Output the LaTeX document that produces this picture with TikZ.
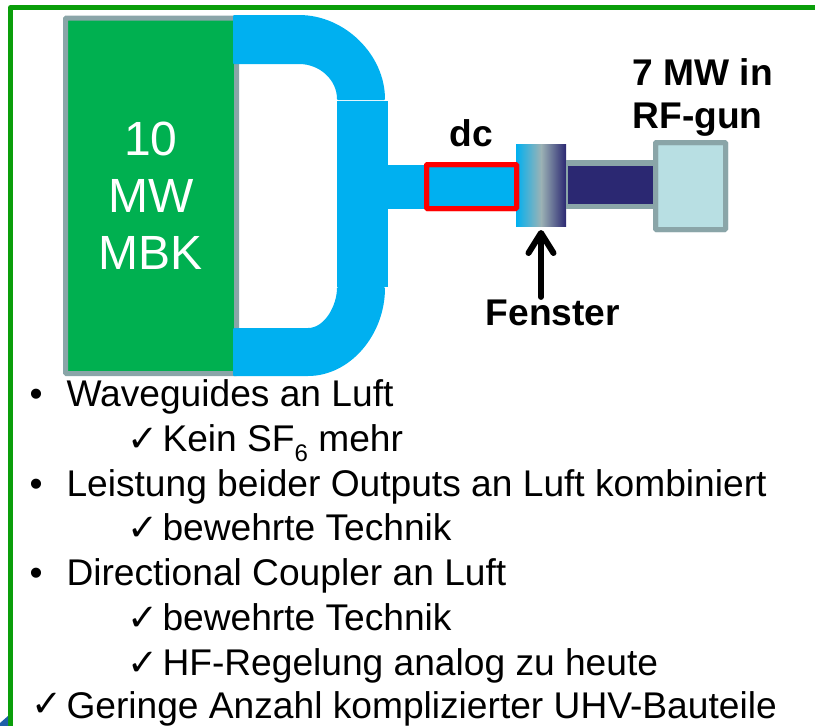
\documentclass[tikz,border=0pt]{standalone}
\usepackage{fontspec}
\setmainfont{Liberation Sans}
\newfontfamily\symfont{DejaVu Sans}
\usetikzlibrary{arrows.meta}
\definecolor{mbkgreen}{HTML}{00B050}
\definecolor{guideblue}{HTML}{00B0F0}
\definecolor{rimgray}{HTML}{8AA5A8}
\definecolor{tubenavy}{HTML}{2B2872}
\definecolor{gunpale}{HTML}{B8DFE3}
\definecolor{framegreen}{HTML}{0A9E0A}
\definecolor{cornerblue}{HTML}{1F5FA8}
\tikzset{
  rimbox/.style={draw=rimgray, line width=5pt, rounded corners=1pt, outer sep=0pt, inner sep=0pt},
  guidebox/.style={fill=guideblue, outer sep=0pt, inner sep=0pt},
  bodytext/.style={anchor=base west, inner sep=0pt, font=\fontsize{37.15}{44}\selectfont},
  boldtext/.style={inner sep=0pt, font=\fontsize{37.15}{43}\selectfont\bfseries},
}
\newcommand{\chk}{{\symfont\fontsize{37}{37}\selectfont\char"2713}}
\begin{document}
\begin{tikzpicture}[x=1pt, y=-1pt, line width=1pt]
  \useasboundingbox (0,0) rectangle (815,726);
  % slide frame and corner
  \draw[framegreen, line width=5pt, line join=round] (815,7.5) -- (10.5,7.5) -- (10.5,726);
  \fill[cornerblue] (0,723) -- (8,716) -- (8,726) -- (0,726) -- cycle;
  % klystron
  \node[rimbox, fill=mbkgreen, minimum width=171pt, minimum height=355.5pt, text=white,
        align=center, font=\fontsize{48}{57}\selectfont] (mbk) at (151,195.75) {10\\MW\\MBK};
  % waveguide bends and column
  \fill[guideblue, rounded corners=1pt] (233,15) -- (298,15) .. controls (345,15) and (385,55) .. (385,100)
    -- (337,100) .. controls (337,80) and (320,64) .. (298,64) -- (233,64) -- cycle;
  \fill[guideblue, rounded corners=1pt] (233,328) -- (307,328) .. controls (325,328) and (337,305) .. (337,287)
    -- (385,287) .. controls (385,335) and (350,376) .. (307,376) -- (233,376) -- cycle;
  \node[guidebox, minimum width=51pt, minimum height=186.5pt] (column) at (362.5,193.75) {};
  % window, tube and gun
  \node[outer sep=0pt, inner sep=0pt, minimum width=50pt, minimum height=82pt, left color=guideblue,
        right color=tubenavy, middle color=rimgray!85!white] (window) at (541,185) {};
  \node[rimbox, fill=gunpale, minimum width=70pt, minimum height=87pt] (gun) at (690.5,186) {};
  \node[rimbox, draw=red, fill=guideblue, minimum width=90pt, minimum height=44pt] (dc) at (471.5,186.5) {};
  \draw[guideblue, line width=44pt] (column.east |- dc.west) -- (dc.west);
  \draw[red, line width=5pt, rounded corners=1pt] (dc.north west) rectangle (dc.south east);
  \draw[rimgray, line width=49pt] (window.east |- 0,184.5) -- (gun.west |- 0,184.5);
  \draw[tubenavy, line width=38pt] (568,185) -- (gun.west |- 0,185);
  \draw[rimgray, line width=5pt, rounded corners=1pt] (gun.north west) rectangle (gun.south east);
  % labels
  \node[boldtext, anchor=base] (dclabel) at (471,146) {dc};
  \node[boldtext, anchor=base west, align=left] (gunlabel) at (632,128) {7 MW in\\RF-gun};
  \node[boldtext, anchor=base] (fenster) at (553,325) {Fenster};
  \draw[-{Straight Barb[round, length=20pt, width=25pt, line width=6pt]}, line width=6pt, line cap=round, shorten <=2pt, shorten >=4pt]
    (window.south |- fenster.north) -- (window.south);
  % bullet list
  \foreach \y/\txt in {406/Waveguides an Luft,
      496/Leistung beider Outputs an Luft kombiniert,
      585/Directional Coupler an Luft}{
    \node[bodytext] (bul\y) at (29,\y) {\textbullet};
    \node[bodytext] (line\y) at (66,\y) {\txt};
  }
  \foreach \y/\txt in {451/Kein SF\raisebox{-0.28em}{\fontsize{24}{24}\selectfont 6} mehr,
      540/bewehrte Technik, 630/bewehrte Technik, 675/HF-Regelung analog zu heute}{
    \node[bodytext] (chk\y) at (127,\y) {\chk};
    \node[bodytext] (line\y) at (162,\y) {\txt};
  }
  \node[bodytext] (chk718) at (31,716) {\chk};
  \node[bodytext] (line718) at (66,718) {Geringe Anzahl komplizierter UHV-Bauteile};
\end{tikzpicture}
\end{document}
